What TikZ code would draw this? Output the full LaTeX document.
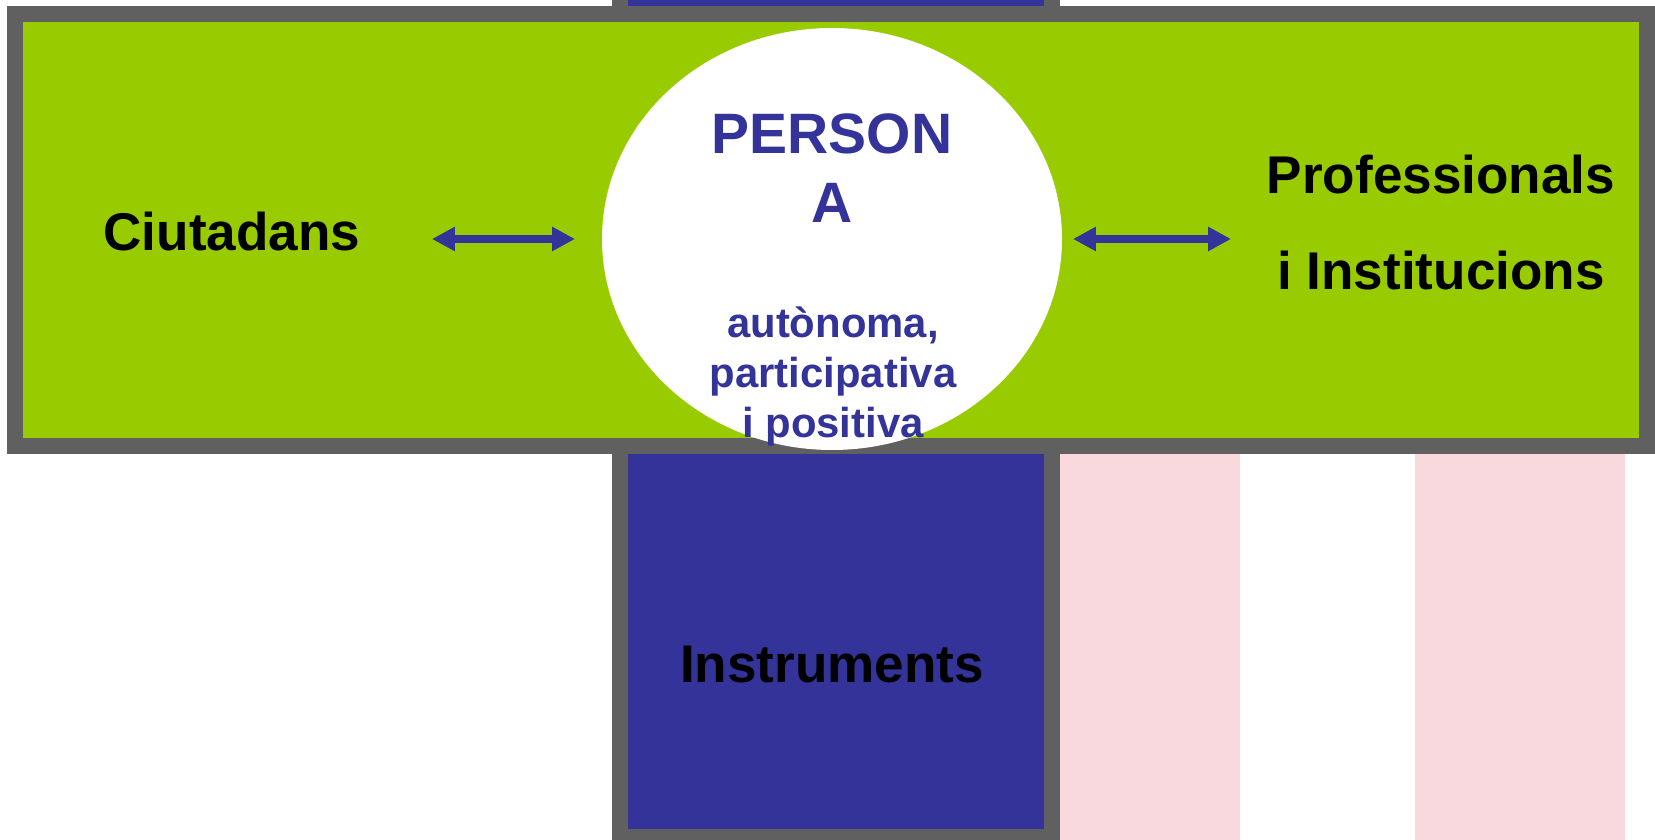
\documentclass[tikz,border=0pt]{standalone}
\usepackage{fontspec}
\setmainfont{Liberation Sans}
\usepackage{tikz}
\usetikzlibrary{arrows.meta}
\definecolor{limegreen}{HTML}{99CC00}
\definecolor{framegray}{HTML}{606060}
\definecolor{navyblue}{HTML}{333399}
\definecolor{flagpink}{RGB}{249,217,222}

\begin{document}
\begin{tikzpicture}[x=0.01cm, y=-0.01cm,
        bigtext/.style={font=\fontsize{15.1pt}{27.3pt}\selectfont\bfseries, align=center, anchor=base, inner sep=0pt},
        persontext/.style={font=\fontsize{16.2pt}{19.9pt}\selectfont\bfseries, text=navyblue, align=center, anchor=base, inner sep=0pt},
        qualtext/.style={font=\fontsize{11.9pt}{14.2pt}\selectfont\bfseries, text=navyblue, align=center, anchor=base, inner sep=0pt},
        twoway/.style={navyblue, line width=2pt, {Triangle[length=6.5pt, width=6.5pt]}-{Triangle[length=6.5pt, width=6.5pt]}}]
        \useasboundingbox (0, 0) rectangle (1655, 840);
        \clip (0, 0) rectangle (1655, 840);
        \fill[white] (0, 0) rectangle (1655, 840);
        \fill[flagpink] (1060, 454) rectangle (1240, 840);
        \fill[flagpink] (1415, 454) rectangle (1625, 840);
        \fill[framegray] (612, -20) rectangle (1060, 845);
        \fill[navyblue] (628, -20) rectangle (1044, 829);
        \fill[framegray] (7, 6) rectangle (1670, 454);
        \fill[limegreen] (23, 22) rectangle (1639, 438);
        \fill[white] (832, 239) ellipse (230 and 211);
        \node[bigtext] (ciutadans) at (232, 251) {Ciutadans};
        \node[bigtext] (professionals) at (1441, 290) {Professionals\\i Institucions};
        \node[bigtext] (instruments) at (832, 682) {Instruments};
        \node[persontext] (persona) at (832, 223) {PERSON\\A};
        \node[qualtext] (qualitats) at (833, 437) {autònoma,\\participativa\\i positiva};
        \coordinate (leftA) at (432, 239);
        \coordinate (leftB) at (575, 239);
        \coordinate (rightA) at (1073, 239);
        \coordinate (rightB) at (1231, 239);
        \draw[twoway] (leftA) -- (leftB);
        \draw[twoway] (rightA) -- (rightB);
    \end{tikzpicture}
\end{document}
